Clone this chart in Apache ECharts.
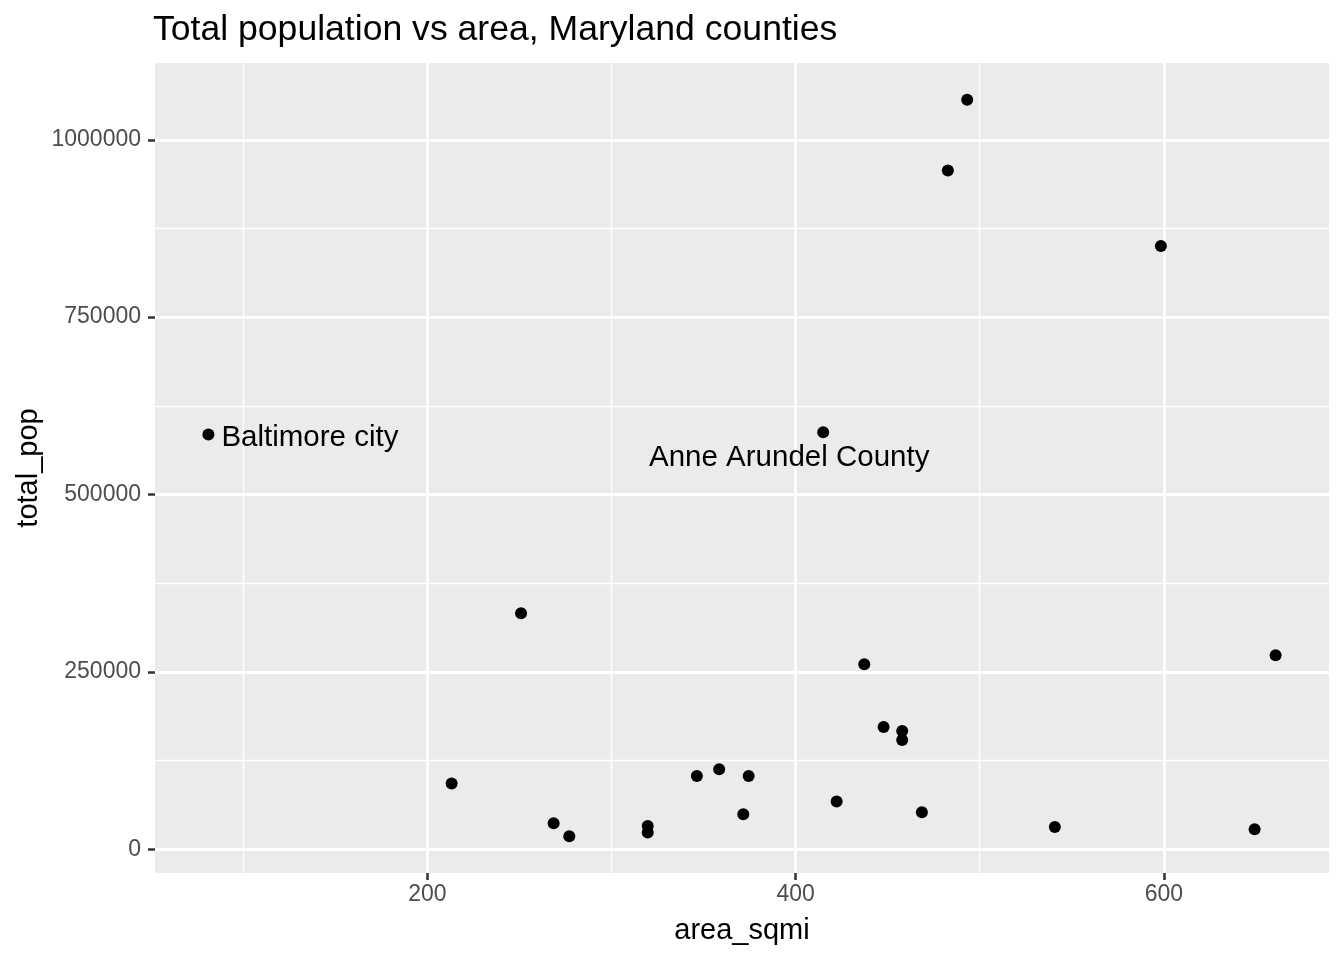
<!DOCTYPE html>
<html>
<head>
<meta charset="utf-8">
<title>Total population vs area, Maryland counties</title>
<script src="https://cdn.jsdelivr.net/npm/echarts@6/dist/echarts.min.js"></script>
<style>
  html, body { margin: 0; padding: 0; background: #fff; }
  #chart { width: 1344px; height: 960px; }
</style>
</head>
<body>
<div id="chart"></div>
<script>
// data (one entry per county)
var areaSqmi = [81.1, 415.0, 493.2, 482.7, 598.4, 250.9, 437.3, 660.7, 447.8, 457.9, 457.9, 213.2,
                268.6, 277.1, 319.7, 319.7, 346.4, 358.5, 374.5, 371.6, 422.3, 468.6, 540.8, 649.3];
var totalPop = [584500, 587700, 1056300, 956800, 850300, 332400, 260600, 273200, 172300, 166600, 153900, 92500,
                36600, 18300, 32800, 23500, 103200, 112700, 103200, 49300, 67200, 52100, 31400, 28200];
var pointLabels = ['Baltimore city', 'Anne Arundel County', '', '', '', '', '', '', '', '', '', '',
                   '', '', '', '', '', '', '', '', '', '', '', ''];

// axis breaks
var xMajorTicks = [200, 400, 600];
var xMinorBreaks = [100, 300, 500];
var yMajorTicks = [0, 250000, 500000, 750000, 1000000];
var yMinorBreaks = [125000, 375000, 625000, 875000];
var xRange = [52.1, 689.7];
var yRange = [-33600, 1108200];

var FONT = '"Liberation Sans", Arial, Helvetica, sans-serif';

// label placement for the two annotated points
var labelStyles = {
    'Baltimore city': { position: 'right', distance: 7, offset: [0, 3], align: 'left' },
    'Anne Arundel County': { position: 'inside', offset: [-34, 26], align: 'center' }
};

var points = areaSqmi.map(function (x, i) {
    var item = { value: [x, totalPop[i]], name: pointLabels[i] };
    var ls = labelStyles[pointLabels[i]];
    if (ls) {
        item.label = {
            show: true,
            formatter: '{b}',
            position: ls.position,
            distance: ls.distance,
            offset: ls.offset,
            align: ls.align,
            verticalAlign: 'middle',
            color: '#000',
            fontSize: 29.5,
            fontFamily: FONT
        };
    }
    return item;
});

function plain(v) { return String(v); }

var chart = echarts.init(document.getElementById('chart'));

chart.setOption({
    animation: false,
    backgroundColor: '#fff',
    title: {
        text: 'Total population vs area, Maryland counties',
        left: 153,
        top: 12,
        padding: 0,
        textStyle: { color: '#000', fontSize: 35.6, fontWeight: 'normal', fontFamily: FONT }
    },
    grid: {
        left: 155, right: 15, top: 63, bottom: 87,
        containLabel: false,
        outerBoundsMode: 'none',
        show: true, backgroundColor: '#EBEBEB', borderWidth: 0
    },
    xAxis: [{
        type: 'value',
        min: xRange[0], max: xRange[1],
        position: 'bottom',
        name: 'area_sqmi',
        nameLocation: 'middle',
        nameGap: 43,
        nameMoveOverlap: false,
        nameTextStyle: { color: '#000', fontSize: 29, fontFamily: FONT },
        axisLine: { show: false, onZero: false },
        axisTick: { show: true, length: 7, customValues: xMajorTicks, lineStyle: { color: '#333', width: 2.5 } },
        axisLabel: { customValues: xMajorTicks, formatter: plain, color: '#4D4D4D', fontSize: 23, fontFamily: FONT, margin: 10 },
        splitLine: { show: true, lineStyle: { color: '#fff', width: 2.8 } }
    }, {
        type: 'value',
        min: xRange[0], max: xRange[1],
        position: 'top',
        axisLine: { show: false, onZero: false },
        axisTick: { show: false, customValues: xMinorBreaks },
        axisLabel: { show: false, customValues: xMinorBreaks },
        splitLine: { show: true, lineStyle: { color: '#fff', width: 1.4 } }
    }],
    yAxis: [{
        type: 'value',
        min: yRange[0], max: yRange[1],
        position: 'left',
        name: 'total_pop',
        nameLocation: 'middle',
        nameGap: 112,
        nameMoveOverlap: false,
        nameTextStyle: { color: '#000', fontSize: 29, fontFamily: FONT },
        axisLine: { show: false, onZero: false },
        axisTick: { show: true, length: 7, customValues: yMajorTicks, lineStyle: { color: '#333', width: 2.5 } },
        axisLabel: { customValues: yMajorTicks, formatter: plain, color: '#4D4D4D', fontSize: 23, fontFamily: FONT, margin: 14 },
        splitLine: { show: true, lineStyle: { color: '#fff', width: 2.8 } }
    }, {
        type: 'value',
        min: yRange[0], max: yRange[1],
        position: 'right',
        axisLine: { show: false, onZero: false },
        axisTick: { show: false, customValues: yMinorBreaks },
        axisLabel: { show: false, customValues: yMinorBreaks },
        splitLine: { show: true, lineStyle: { color: '#fff', width: 1.4 } }
    }],
    series: [{
        type: 'scatter',
        xAxisIndex: 0,
        yAxisIndex: 0,
        symbol: 'circle',
        symbolSize: 12,
        itemStyle: { color: '#000', opacity: 1 },
        data: points
    }]
});
</script>
</body>
</html>
